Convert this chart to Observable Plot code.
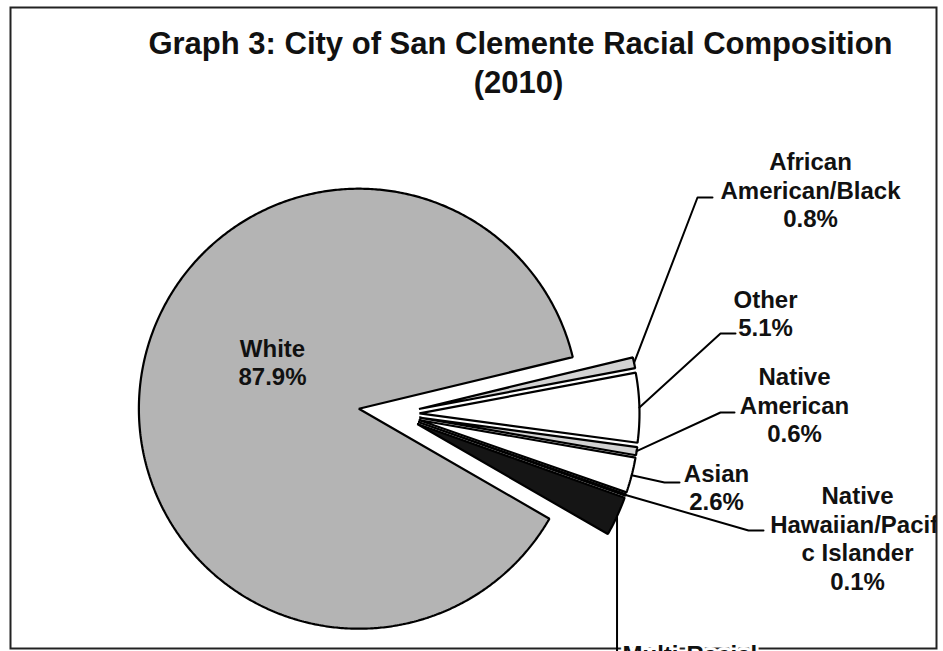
<!DOCTYPE html>
<html>
<head>
<meta charset="utf-8">
<script src="https://cdn.jsdelivr.net/npm/d3@7"></script>
<script src="https://cdn.jsdelivr.net/npm/@observablehq/plot@0.6"></script>
<style>
  html, body { margin: 0; padding: 0; background: #fff; overflow: hidden; }
</style>
</head>
<body>
<div id="chart"></div>
<script>
// City of San Clemente racial composition, 2010 (percent of residents)
const categories = [
  "White",
  "African American/Black",
  "Other",
  "Native American",
  "Asian",
  "Native Hawaiian/Pacific Islander",
  "Multi-Racial"
];
const shares = [87.9, 0.8, 5.1, 0.6, 2.6, 0.1, 2.9];
// category names as they wrap inside the data labels
const labelNames = [
  "White",
  "African\nAmerican/Black",
  "Other",
  "Native\nAmerican",
  "Asian",
  "Native\nHawaiian/Pacifi\nc Islander",
  "Multi-Racial"
];
const titleLines = ["Graph 3: City of San Clemente Racial Composition", "(2010)"];

// ---- layout -------------------------------------------------------------
const W = 943, H = 651;
const margin = {top: 7, right: 7, bottom: 3, left: 10};
const R = 220;                 // pie radius (px)
const cx = 395, cy = 413.5;    // pie centre (px)
const explodeMain = 37;        // the large slice is pulled out to the left
const explodeRest = 24;        // the small slices are pulled out to the right
const palette = ["#b4b4b4", "#d3d3d3", "#ffffff", "#d3d3d3", "#ffffff", "#ffffff", "#151515"];
const font = "'Liberation Sans', Arial, Helvetica, sans-serif";

// label block centres, and leader elbows [elbowX, elbowY, endX]
const labelPos = {
  "White": [272, 361.5],
  "African American/Black": [810, 189],
  "Other": [765, 312.5],
  "Native American": [794, 404],
  "Asian": [716, 486.5],
  "Native Hawaiian/Pacific Islander": [857, 537.5],
  "Multi-Racial": [622, 655]
};
const leaderBends = {
  "African American/Black": [697, 197, 712],
  "Other": [720, 333, 735],
  "Native American": [720, 412, 734],
  "Asian": [664, 482, 679],
  "Native Hawaiian/Pacific Islander": [748, 530, 763],
  "Multi-Racial": [null, 664, 622]
};

// ---- geometry (angles clockwise from 12 o'clock, as in d3.pie) -----------
const deg = Math.PI / 180;
const arcs = d3.pie().sort(null).startAngle(120 * deg).endAngle(480 * deg)(shares);

const slicePts = [];
const leaders = [];
arcs.forEach((a, i) => {
  const name = categories[i];
  const mid = (a.startAngle + a.endAngle) / 2;
  const e = i === 0 ? explodeMain : explodeRest;
  const vx = cx + e * Math.sin(mid), vy = cy - e * Math.cos(mid);
  slicePts.push({name, x: vx, y: vy});
  const n = Math.max(2, Math.ceil((a.endAngle - a.startAngle) / (0.5 * deg)));
  for (let k = 0; k <= n; ++k) {
    const t = a.startAngle + (a.endAngle - a.startAngle) * k / n;
    slicePts.push({name, x: vx + R * Math.sin(t), y: vy - R * Math.cos(t)});
  }
  const bend = leaderBends[name];
  if (bend) {
    const sx = vx + R * Math.sin(mid), sy = vy - R * Math.cos(mid);
    const bx = bend[0] == null ? sx : bend[0];
    leaders.push({name, x: sx, y: sy});
    leaders.push({name, x: bx, y: bend[1]});
    leaders.push({name, x: bend[2], y: bend[1]});
  }
});

const labels = categories.map((name, i) => ({
  name,
  x: labelPos[name][0],
  y: labelPos[name][1],
  text: name === "Multi-Racial" ? labelNames[i] : `${labelNames[i]}\n${shares[i].toFixed(1)}%`
}));
const mainLabels = labels.filter(d => d.name !== "Native Hawaiian/Pacific Islander" && d.name !== "Multi-Racial");
const edgeLabel = labels.filter(d => d.name === "Native Hawaiian/Pacific Islander");
const bottomLabel = labels.filter(d => d.name === "Multi-Racial");

const chart = Plot.plot({
  width: W,
  height: H,
  marginTop: margin.top,
  marginRight: margin.right,
  marginBottom: margin.bottom,
  marginLeft: margin.left,
  x: {domain: [margin.left, W - margin.right], axis: null},
  y: {domain: [margin.top, H - margin.bottom], range: [margin.top, H - margin.bottom], axis: null},
  color: {type: "ordinal", domain: categories, range: palette},
  style: {fontFamily: font, background: "#fff"},
  marks: [
    Plot.frame({stroke: "#222", strokeWidth: 2}),
    Plot.line(slicePts, {
      x: "x", y: "y", z: "name", fill: "name",
      stroke: "#000", strokeWidth: 2.2, strokeLinejoin: "miter",
      curve: "linear-closed"
    }),
    Plot.line(leaders, {x: "x", y: "y", z: "name", stroke: "#000", strokeWidth: 2}),
    Plot.text(mainLabels, {
      x: "x", y: "y", text: "text", fontSize: 24, fontWeight: "bold",
      lineHeight: 1.19, fill: "#111", fontFamily: font
    }),
    Plot.text(edgeLabel, {
      x: "x", y: "y", text: "text", fontSize: 24, fontWeight: "bold",
      lineHeight: 1.19, fill: "#111", fontFamily: font, clip: "frame"
    }),
    Plot.text(bottomLabel, {
      x: "x", y: "y", text: "text", fontSize: 24, fontWeight: "bold",
      textAnchor: "start", fill: "#111", stroke: "#fff", strokeWidth: 6,
      fontFamily: font
    }),
    Plot.text(titleLines, {
      x: [520, 518], y: [44, 83], text: d => d,
      fontSize: 31, fontWeight: "bold", fill: "#111", fontFamily: font
    })
  ]
});

document.getElementById("chart").appendChild(chart);
</script>
</body>
</html>
